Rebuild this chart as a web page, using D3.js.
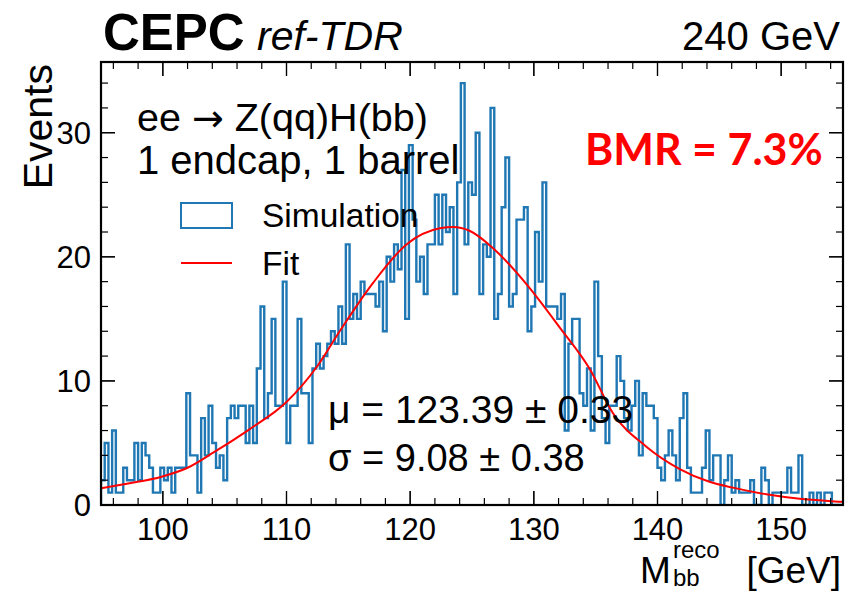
<!DOCTYPE html>
<html>
<head>
<meta charset="utf-8">
<script src="https://cdn.jsdelivr.net/npm/d3@7"></script>
<style>
  body { margin: 0; background: #fff; }
  text { font-family: "Liberation Sans", Arial, Helvetica, sans-serif; fill: #000; }
</style>
</head>
<body>
<script>
// histogram: 200 bins of 0.3 GeV from 95 to 155
var xMin = 95, xMax = 155, binWidth = 0.3;
var counts = [
  2, 5, 1, 6, 1, 1, 3, 2, 2, 5,
  2, 5, 4, 3, 1, 1, 3, 2, 3, 1,
  3, 3, 3, 9, 4, 4, 1, 7, 4, 8,
  5, 3, 4, 2, 7, 8, 7, 8, 8, 5,
  8, 5, 11, 16, 7, 9, 15, 8, 8, 18,
  5, 8, 8, 15, 9, 9, 5, 11, 13, 11,
  12, 13, 14, 13, 16, 13, 21, 15, 17, 15,
  18, 17, 17, 17, 16, 18, 14, 20, 18, 21,
  19, 27, 15, 29, 23, 18, 20, 17, 21, 21,
  25, 21, 25, 22, 24, 17, 26, 34, 21, 26,
  25, 30, 17, 21, 20, 32, 15, 17, 24, 28,
  16, 17, 23, 23, 24, 14, 16, 22, 18, 26,
  16, 16, 16, 15, 17, 6, 13, 15, 15, 9,
  8, 11, 6, 18, 12, 7, 5, 8, 8, 12,
  10, 7, 6, 8, 10, 4, 9, 8, 8, 7,
  3, 2, 4, 6, 4, 2, 7, 9, 3, 1,
  1, 1, 3, 6, 2, 4, 4, 0, 2, 4,
  1, 2, 1, 1, 1, 2, 0, 0, 3, 2,
  0, 1, 1, 1, 1, 3, 1, 1, 4, 0,
  0, 1, 0, 1, 0, 1, 1, 0, 0, 0
];

// fit curve
var fitX = [95.0, 97.2, 99.9, 102.0, 104.2, 107.0, 110.0, 112.5, 114.3, 117.0, 119.7, 122.4, 123.5, 124.8, 126.7, 129.4, 132.1, 134.5, 136.4, 139.1, 141.8, 144.2, 146.1, 148.8, 151.5, 154.7, 155.0];
var fitY = [1.34, 1.74, 2.28, 3.0, 4.3, 6.1, 8.3, 11.2, 14.0, 17.9, 21.0, 22.3, 22.4, 22.1, 20.7, 17.8, 14.3, 11.0, 7.4, 4.7, 2.9, 1.87, 1.4, 0.86, 0.5, 0.27, 0.25];

var xTicks = [100, 110, 120, 130, 140, 150];
var yTicks = [0, 10, 20, 30];

var W = 848, H = 591;
// plot frame (pixels)
var pLeft = 101, pRight = 843, pTop = 62, pBottom = 505;

var svg = d3.select('body').append('svg')
    .attr('width', W)
    .attr('height', H);

var x = d3.scaleLinear().domain([xMin, xMax]).range([pLeft, pRight]);
var y = d3.scaleLinear().domain([0, 35.7]).range([pBottom, pTop]);

var blue = '#1f77b4';

// histogram outline
var pts = [[xMin, 0]];
counts.forEach(function(c, i){
    var lo = xMin + i * binWidth;
    pts.push([lo, c]);
    pts.push([lo + binWidth, c]);
});
pts.push([xMax, 0]);

svg.append('clipPath').attr('id', 'clip')
    .append('rect').attr('x', pLeft).attr('y', pTop)
    .attr('width', pRight - pLeft).attr('height', pBottom - pTop);

var plot = svg.append('g').attr('clip-path', 'url(#clip)');

plot.append('path')
    .datum(pts)
    .attr('d', d3.line().x(function(d){ return x(d[0]); }).y(function(d){ return y(d[1]); }))
    .style('fill', 'none')
    .style('stroke', blue)
    .style('stroke-width', 2.4);

// fit
plot.append('path')
    .datum(d3.zip(fitX, fitY))
    .attr('d', d3.line().curve(d3.curveMonotoneX).x(function(d){ return x(d[0]); }).y(function(d){ return y(d[1]); }))
    .style('fill', 'none')
    .style('stroke', '#ff0000')
    .style('stroke-width', 2);

// ticks, inside the frame on all four sides
var xMinor = d3.range(96, 155, 2);
var yMinor = d3.range(0, 35.7, 2);
var major = 14, minor = 7;

function tickLen(v, majors){ return majors.indexOf(v) >= 0 ? major : minor; }

var ticks = svg.append('g').style('stroke', '#000').style('stroke-width', 1.2);
xMinor.concat(xTicks).forEach(function(v){
    var L = tickLen(v, xTicks);
    ticks.append('line').attr('x1', x(v)).attr('x2', x(v)).attr('y1', pBottom).attr('y2', pBottom - L);
    ticks.append('line').attr('x1', x(v)).attr('x2', x(v)).attr('y1', pTop).attr('y2', pTop + L);
});
yMinor.concat(yTicks).forEach(function(v){
    var L = tickLen(v, yTicks);
    ticks.append('line').attr('x1', pLeft).attr('x2', pLeft + L).attr('y1', y(v)).attr('y2', y(v));
    ticks.append('line').attr('x1', pRight).attr('x2', pRight - L).attr('y1', y(v)).attr('y2', y(v));
});

// frame
svg.append('rect')
    .attr('x', pLeft).attr('y', pTop)
    .attr('width', pRight - pLeft).attr('height', pBottom - pTop)
    .style('fill', 'none').style('stroke', '#000').style('stroke-width', 2.2);

// tick labels
svg.selectAll('.xl').data(xTicks).enter().append('text')
    .attr('x', function(d){ return x(d); })
    .attr('y', 540)
    .attr('text-anchor', 'middle')
    .style('font-size', '31px')
    .text(function(d){ return d; });

svg.selectAll('.yl').data(yTicks).enter().append('text')
    .attr('x', 91)
    .attr('y', function(d){ return y(d) + 11; })
    .attr('text-anchor', 'end')
    .style('font-size', '31px')
    .text(function(d){ return d; });

// axis titles
svg.append('text')
    .attr('transform', 'translate(52,64) rotate(-90)')
    .attr('text-anchor', 'end')
    .style('font-size', '41px')
    .text('Events');

svg.append('text').attr('x', 640).attr('y', 583).style('font-size', '37px').text('M');
svg.append('text').attr('x', 673).attr('y', 558).style('font-size', '24px').text('reco');
svg.append('text').attr('x', 673).attr('y', 586).style('font-size', '24px').text('bb');
svg.append('text').attr('x', 841).attr('y', 583).attr('text-anchor', 'end').style('font-size', '37px').text('[GeV]');

// header
svg.append('text').attr('x', 103).attr('y', 50)
    .style('font-size', '51px').style('font-weight', 'bold').text('CEPC');
svg.append('text').attr('x', 257).attr('y', 50)
    .style('font-size', '41px').style('font-style', 'italic').text('ref-TDR');
svg.append('text').attr('x', 840).attr('y', 50).attr('text-anchor', 'end')
    .style('font-size', '40px').text('240 GeV');

// process labels
var proc = svg.append('text').attr('x', 137).attr('y', 131).style('font-size', '39.5px');
proc.append('tspan').text('ee ');
proc.append('tspan').style('font-family', '"DejaVu Sans", sans-serif').style('font-size', '38px').text('\u2192');
proc.append('tspan').text(' Z(qq)H(bb)');
svg.append('text').attr('x', 137).attr('y', 174).style('font-size', '40px').text('1 endcap, 1 barrel');

// legend
svg.append('rect').attr('x', 181).attr('y', 203).attr('width', 51).attr('height', 25)
    .style('fill', 'none').style('stroke', blue).style('stroke-width', 2);
svg.append('text').attr('x', 262).attr('y', 227).style('font-size', '33.5px').text('Simulation');
svg.append('line').attr('x1', 181).attr('x2', 232).attr('y1', 263).attr('y2', 263)
    .style('stroke', '#ff0000').style('stroke-width', 2);
svg.append('text').attr('x', 262).attr('y', 275).style('font-size', '33.5px').text('Fit');

// BMR
svg.append('text').attr('x', 585).attr('y', 165)
    .style('font-family', 'Lato, "Liberation Sans", sans-serif')
    .style('font-size', '43px').style('font-weight', 'bold').style('fill', '#ff0000')
    .text('BMR = 7.3%');

// fit results
svg.append('text').attr('x', 328).attr('y', 423).style('font-size', '39px').text('\u03bc = 123.39 \u00b1 0.33');
svg.append('text').attr('x', 328).attr('y', 471).style('font-size', '38px').text('\u03c3 = 9.08 \u00b1 0.38');
</script>
</body>
</html>
